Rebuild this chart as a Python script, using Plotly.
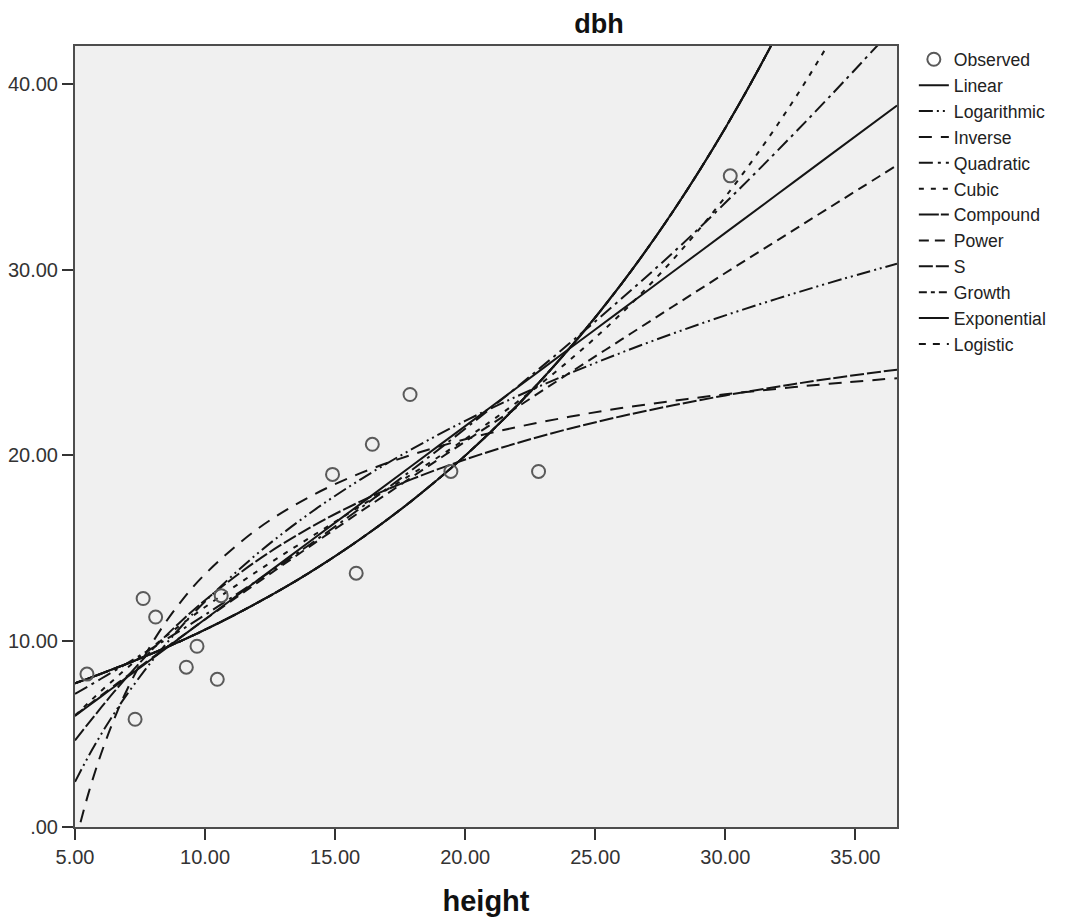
import plotly.graph_objects as go

height_obs = [5.46, 7.31, 7.62, 8.10, 9.28, 9.69, 10.47, 10.62, 14.90, 15.81, 16.43, 17.88, 19.45, 22.82, 30.19]
dbh_obs = [8.23, 5.80, 12.30, 11.30, 8.60, 9.73, 7.95, 12.45, 18.98, 13.66, 20.60, 23.28, 19.14, 19.14, 35.05]

# Curve sample positions and values
x_fit = [5, 5.5, 6, 6.5, 7, 8, 9, 10, 12, 14, 16, 18, 20, 22, 24, 26, 28, 30, 32, 34, 36.6]
linear = [5.98, 6.50, 7.02, 7.54, 8.06, 9.10, 10.14, 11.18, 13.26, 15.34, 17.42, 19.50, 21.58, 23.66, 25.74, 27.82, 29.90, 31.98, 34.06, 36.14, 38.84]
logarithmic = [2.43, 3.76, 4.98, 6.10, 7.14, 9.01, 10.66, 12.14, 14.70, 16.86, 18.73, 20.38, 21.86, 23.19, 24.41, 25.53, 26.57, 27.54, 28.44, 29.29, 30.32]
inverse = [-0.91, 1.73, 3.93, 5.79, 7.39, 9.98, 12.00, 13.61, 16.03, 17.76, 19.06, 20.06, 20.87, 21.53, 22.08, 22.55, 22.94, 23.29, 23.59, 23.86, 24.16]
quadratic = [7.17, 7.57, 7.98, 8.39, 8.81, 9.66, 10.53, 11.42, 13.26, 15.18, 17.19, 19.27, 21.44, 23.69, 26.02, 28.43, 30.93, 33.60, 36.40, 39.30, 43.20]
cubic = [5.99, 6.66, 7.32, 7.94, 8.56, 9.72, 10.81, 11.84, 13.76, 15.55, 17.30, 19.04, 20.88, 22.88, 25.11, 27.64, 30.56, 33.92, 37.79, 42.25, 49.07]
power = [6.01, 6.54, 7.07, 7.60, 8.12, 9.15, 10.16, 11.17, 13.14, 15.08, 17.00, 18.88, 20.75, 22.60, 24.43, 26.23, 28.03, 29.82, 31.58, 33.34, 35.62]
s_curve = [4.66, 5.55, 6.42, 7.27, 8.08, 9.60, 10.97, 12.21, 14.34, 16.09, 17.54, 18.75, 19.78, 20.67, 21.44, 22.11, 22.70, 23.23, 23.70, 24.13, 24.62]
exponential = [7.74, 7.99, 8.25, 8.52, 8.79, 9.36, 9.97, 10.62, 12.06, 13.68, 15.53, 17.62, 19.99, 22.69, 25.75, 29.22, 33.16, 37.63, 42.70, 48.46, 57.10]
compound = exponential
growth = exponential
logistic = exponential

x_ticks = [5, 10, 15, 20, 25, 30, 35]
x_ticktext = ["5.00", "10.00", "15.00", "20.00", "25.00", "30.00", "35.00"]
y_ticks = [0, 10, 20, 30, 40]
y_ticktext = [".00", "10.00", "20.00", "30.00", "40.00"]

curves = [
    ("Linear", linear, "solid"),
    ("Logarithmic", logarithmic, "14px,4px,2px,4px,2px,4px"),
    ("Inverse", inverse, "13px,9px"),
    ("Quadratic", quadratic, "14px,5px,3px,5px"),
    ("Cubic", cubic, "5px,7px"),
    ("Compound", compound, "20px,2px"),
    ("Power", power, "10px,6px"),
    ("S", s_curve, "14px,3px"),
    ("Growth", growth, "8px,4px,4px,4px"),
    ("Exponential", exponential, "solid"),
    ("Logistic", logistic, "7px,7px"),
]

fig = go.Figure()
for i, (name, vals, dash) in enumerate(curves):
    fig.add_trace(go.Scatter(
        x=x_fit, y=vals, mode="lines", name=name,
        line=dict(color="#151515", width=2, dash=dash, shape="spline"),
        legendrank=i + 2,
    ))

fig.add_trace(go.Scatter(
    x=height_obs, y=dbh_obs, mode="markers", name="Observed",
    marker=dict(symbol="circle-open", size=13, color="#5a5a5a", line=dict(width=2, color="#5a5a5a")),
    legendrank=1,
))

W, H = 1065, 913
FONT = "Liberation Sans, Arial, sans-serif"
axis_font = dict(family=FONT, size=20, color="#333333")
fig.update_layout(
    width=W, height=H,
    margin=dict(l=67, r=176, t=38, b=94, autoexpand=False),
    paper_bgcolor="white",
    plot_bgcolor="#f0f0f0",
    font=dict(family=FONT, color="#222222"),
    title=dict(text="<b>dbh</b>", x=591 / W, xanchor="center", xref="container",
               y=1 - 16 / H, yanchor="middle", yref="container",
               font=dict(family=FONT, size=27, color="#111111")),
    showlegend=True,
    legend=dict(x=1.0205, y=1.006, xanchor="left", yanchor="top",
                font=dict(family=FONT, size=17.6, color="#222222"),
                bgcolor="rgba(0,0,0,0)", itemwidth=30, tracegroupgap=0),
    xaxis=dict(range=[5, 36.6], tickvals=x_ticks, ticktext=x_ticktext, ticks="outside", ticklen=11,
               tickwidth=2, tickcolor="#333333", showgrid=False, zeroline=False,
               showline=True, linecolor="#4d4d4d", linewidth=2, mirror=True,
               tickfont=axis_font,
               title=dict(text="<b>height</b>", standoff=24,
                          font=dict(family=FONT, size=29, color="#111111"))),
    yaxis=dict(range=[0, 42.04], tickvals=y_ticks, ticktext=y_ticktext, ticks="outside", ticklen=11,
               tickwidth=2, tickcolor="#333333", showgrid=False, zeroline=False,
               showline=True, linecolor="#4d4d4d", linewidth=2, mirror=True,
               tickfont=axis_font),
)

fig.write_html("out.html")
